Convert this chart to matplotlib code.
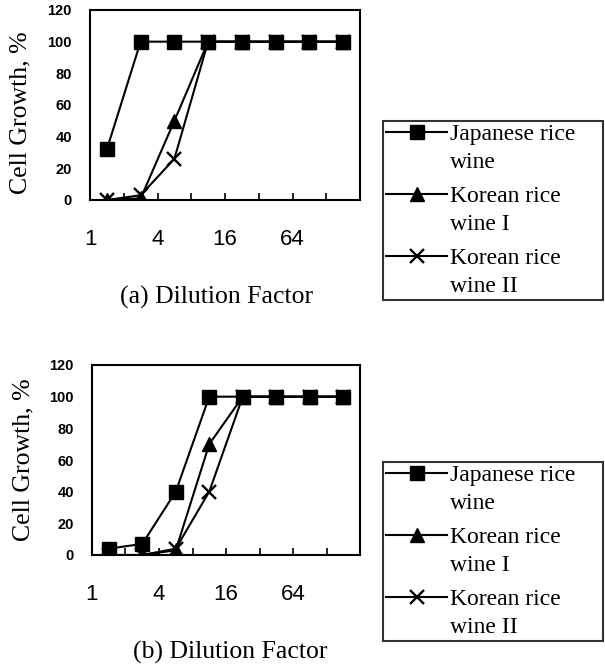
import matplotlib
matplotlib.use("Agg")
import matplotlib.pyplot as plt
from matplotlib.legend_handler import HandlerLine2D
import numpy as np

# dilution steps (8 categories), labels shown only on every 2nd boundary
tick_labels = ["1", "", "4", "", "16", "", "64", "", ""]

series_names = ["Japanese rice\nwine", "Korean rice\nwine I", "Korean rice\nwine II"]

# panel (a)
japanese_a = [32, 100, 100, 100, 100, 100, 100, 100]
korean1_a = [0, 1, 50, 100, 100, 100, 100, 100]
korean2_a = [0, 3, 26, 100, 100, 100, 100, 100]

# panel (b)
japanese_b = [4, 7, 40, 100, 100, 100, 100, 100]
korean1_b = [0, 0, 3, 70, 100, 100, 100, 100]
korean2_b = [0, 0, 4, 40, 100, 100, 100, 100]

yticks = [0, 20, 40, 60, 80, 100, 120]

plt.rcParams["font.family"] = "serif"
plt.rcParams["font.serif"] = ["Liberation Serif", "DejaVu Serif"]


class FirstLineHandler(HandlerLine2D):
    # put the legend sample next to the first line of a two-line label
    def create_artists(self, legend, orig_handle, xdescent, ydescent,
                       width, height, fontsize, trans):
        shift = 0.68 * fontsize
        return super().create_artists(legend, orig_handle, xdescent,
                                      ydescent - 2 * shift, width, height,
                                      fontsize, trans)


fig = plt.figure(figsize=(6.05, 6.68), dpi=100)


def panel(rect, jap, k1, k2, caption, legend_top, cap_x, ylab_y):
    ax = fig.add_axes(rect)
    x = np.arange(len(jap)) + 0.5
    l2, = ax.plot(x, k1, color="black", lw=1.5, marker="^", ms=10, zorder=3)
    l3, = ax.plot(x, k2, color="black", lw=1.5, marker="x", ms=10, mew=1.7, zorder=4)
    l1, = ax.plot(x, jap, color="black", lw=1.5, marker="s", ms=10, zorder=5)
    ax.set_xlim(0, len(jap))
    ax.set_ylim(0, 120)
    ax.set_xticks(np.arange(len(jap) + 1))
    ax.set_xticklabels(tick_labels, family="Liberation Sans", fontsize=16)
    ax.tick_params(axis="x", direction="in", length=5, width=1.2, pad=21)
    ax.set_yticks(yticks)
    ax.set_yticklabels([str(v) for v in yticks], family="Liberation Sans",
                       fontweight="bold", fontsize=10.5)
    ax.tick_params(axis="y", length=0, pad=13)
    for s in ax.spines.values():
        s.set_linewidth(1.5)
    ax.set_ylabel("Cell Growth, %", fontsize=18.5)
    ax.yaxis.set_label_coords(-0.215, ylab_y)
    ax.set_xlabel(caption, fontsize=18.5)
    ax.xaxis.set_label_coords(cap_x, -0.45)
    leg = fig.legend([l1, l2, l3], series_names, loc="upper left",
                     bbox_to_anchor=(383 / 605, legend_top - 0.3, 220 / 605, 0.3),
                     mode="expand", fontsize=17,
                     frameon=True, fancybox=False, edgecolor="black",
                     handlelength=2.6, handletextpad=0.1, labelspacing=0.55,
                     borderpad=0.12, borderaxespad=0,
                     handler_map={l1: FirstLineHandler(), l2: FirstLineHandler(),
                                  l3: FirstLineHandler()})
    for t in leg.get_texts():
        t.set_linespacing(1.45)
    leg.get_frame().set_linewidth(1.5)
    return ax


panel([90 / 605, 1 - 200 / 668, 270 / 605, 190 / 668],
      japanese_a, korean1_a, korean2_a, "(a) Dilution Factor", 1 - 121 / 668,
      0.47, 0.46)
panel([92 / 605, 1 - 555 / 668, 268 / 605, 190 / 668],
      japanese_b, korean1_b, korean2_b, "(b) Dilution Factor", 1 - 462 / 668,
      0.515, 0.5)

fig.savefig("out.png", dpi=100)
